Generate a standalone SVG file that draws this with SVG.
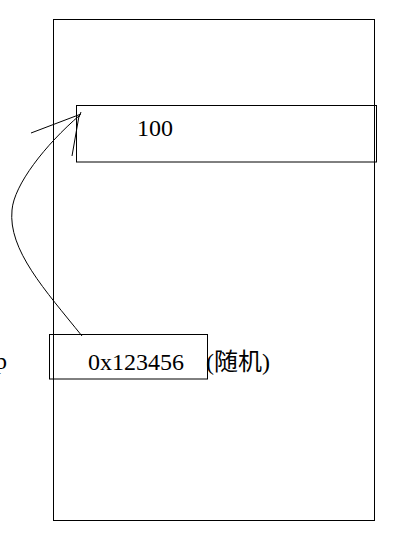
<svg xmlns="http://www.w3.org/2000/svg" width="400" height="538" viewBox="0 0 400 538">
<style>
.box{fill:none;stroke:#000;stroke-width:1}
.ln{fill:none;stroke:#000;stroke-width:1}
.t{font-family:"Liberation Serif","Noto Sans CJK SC",serif;font-size:24px;fill:#000}
</style>
<rect width="400" height="538" fill="#fff"/>
<g id="memory">
<rect class="box" x="53.5" y="19.5" width="321" height="501"/>
</g>
<g id="value-box">
<rect class="box" x="76.5" y="105.5" width="300" height="56.5"/>
<text class="t" x="137" y="135.5">100</text>
</g>
<g id="pointer-box">
<rect class="box" x="49.5" y="334.5" width="158" height="44.5"/>
<text class="t" x="88" y="370">0x123456</text>
</g>
<g id="note">
<text class="t" x="206" y="370">(随机)</text>
</g>
<g id="label-p">
<text class="t" x="-5" y="369">p</text>
</g>
<g id="connectors">
<path class="ln" d="M82,336 C45,290 8,250 12,210 C14,185 45,145 80,115"/>
<path class="ln" d="M31,133 L81,114"/>
<path class="ln" d="M72,156 L79,116"/>
<path class="ln" d="M79,117 L81,112"/>
</g>
</svg>
